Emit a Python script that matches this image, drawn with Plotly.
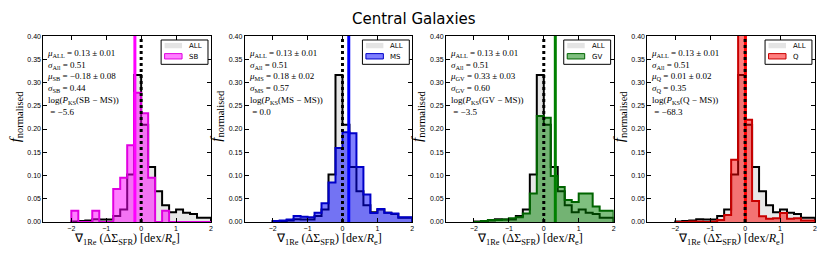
import plotly.graph_objects as go
from plotly.subplots import make_subplots

# ---------------- data ----------------
bin_edges = [-2.0, -1.8, -1.6, -1.4, -1.2, -1.0, -0.8, -0.6, -0.4, -0.2,
             0.0, 0.2, 0.4, 0.6, 0.8, 1.0, 1.2, 1.4, 1.6, 1.8]

all_frac = [0.001, 0.002, 0.003, 0.006, 0.005, 0.005, 0.013, 0.027, 0.102, 0.316,
            0.209, 0.118, 0.066, 0.036, 0.021, 0.027, 0.020, 0.017, 0.009]
sb_frac = [0.024, 0.0, 0.0, 0.024, 0.0, 0.0, 0.071, 0.095, 0.165, 0.278,
           0.234, 0.095, 0.0, 0.024, 0.0, 0.0, 0.0, 0.0, 0.0]
ms_frac = [0.002, 0.003, 0.005, 0.013, 0.011, 0.010, 0.020, 0.040, 0.085, 0.159,
           0.193, 0.191, 0.118, 0.059, 0.019, 0.028, 0.020, 0.018, 0.010]
gv_frac = [0.0, 0.002, 0.004, 0.004, 0.005, 0.008, 0.010, 0.018, 0.061, 0.228,
           0.224, 0.099, 0.075, 0.047, 0.043, 0.061, 0.061, 0.033, 0.024]
q_frac = [0.0, 0.0, 0.001, 0.001, 0.0, 0.001, 0.004, 0.015, 0.134, 0.515,
          0.220, 0.045, 0.012, 0.007, 0.008, 0.019, 0.007, 0.008, 0.003]

groups = ["SB", "MS", "GV", "Q"]
group_frac = [sb_frac, ms_frac, gv_frac, q_frac]
group_mu = [-0.18, 0.18, 0.33, 0.01]
group_mu_err = [0.08, 0.02, 0.03, 0.02]
group_sigma = [0.44, 0.57, 0.60, 0.35]
group_log_pks = [-5.6, 0.0, -3.5, -68.3]
mu_all, mu_all_err, sigma_all = 0.13, 0.01, 0.51
ref_line = 0.0

x_ticks = [-2, -1, 0, 1, 2]
x_tick_labels = ["\u22122", "\u22121", "0", "1", "2"]
y_ticks = [0.0, 0.05, 0.10, 0.15, 0.20, 0.25, 0.30, 0.35, 0.40]
y_tick_labels = ["0.00", "0.05", "0.10", "0.15", "0.20", "0.25", "0.30", "0.35", "0.40"]

title_text = "Central Galaxies"

# ---------------- styles ----------------
fill_cols = ["rgba(255,0,255,0.5)", "rgba(0,0,255,0.5)", "rgba(0,128,0,0.5)", "rgba(255,0,0,0.5)"]
edge_cols = ["#e000e0", "#0000c8", "#006400", "#c80000"]
mean_cols = ["#ff00ff", "#0000ff", "#008000", "#ff0000"]
all_fill = "rgba(211,211,211,0.55)"

W, H = 830, 258
ax_left = [43.5, 245.3, 447.1, 648.9]
ax_w = 168.0
ax_top, ax_bot = 33.0, 224.0
x_range = [-2.8, 2.0]
y_range = [0.0, 0.4]


def px_x(p):
    return p / W


def px_y(p):
    return 1 - p / H


def fmt(v):
    return f"{v:.2f}".replace("-", "\u2212")


def step_xy(vals):
    width = bin_edges[1] - bin_edges[0]
    xs = [bin_edges[0]] + bin_edges[:-1] + [round(bin_edges[-1] + width, 2)]
    ys = [0.0] + list(vals) + [0.0]
    return xs, ys


fig = make_subplots(rows=1, cols=4)

for i, g in enumerate(groups):
    col = i + 1
    xs, ys = step_xy(all_frac)
    fig.add_trace(go.Scatter(x=xs, y=ys, mode="lines", line_shape="hv",
                             line=dict(color="black", width=2), fill="tozeroy",
                             fillcolor=all_fill, showlegend=False, hoverinfo="skip"),
                  row=1, col=col)
    xs, ys = step_xy(group_frac[i])
    fig.add_trace(go.Scatter(x=xs, y=ys, mode="lines", line_shape="hv",
                             line=dict(color=edge_cols[i], width=2), fill="tozeroy",
                             fillcolor=fill_cols[i], showlegend=False, hoverinfo="skip"),
                  row=1, col=col)

    xa = "x" if i == 0 else f"x{i+1}"
    ya = "y" if i == 0 else f"y{i+1}"
    fig.add_shape(type="line", x0=group_mu[i], x1=group_mu[i], y0=0, y1=1,
                  xref=xa, yref=f"{ya} domain", line=dict(color=mean_cols[i], width=3),
                  layer="above")
    fig.add_shape(type="line", x0=ref_line, x1=ref_line, y0=0, y1=1,
                  xref=xa, yref=f"{ya} domain", line=dict(color="black", width=3, dash="3px,3px"),
                  layer="above")

    left = ax_left[i]
    right = left + ax_w
    axis_kw = dict(showline=True, linecolor="black", linewidth=1, mirror="allticks",
                   ticks="inside", ticklen=4, tickcolor="black", tickwidth=1,
                   showgrid=False, zeroline=False,
                   tickfont=dict(family="Liberation Sans", size=7, color="black"))
    fig.update_xaxes(domain=[px_x(left), px_x(right)], range=x_range,
                     tickvals=x_ticks, ticktext=x_tick_labels, **axis_kw, row=1, col=col)
    fig.update_yaxes(domain=[px_y(ax_bot), px_y(ax_top)], range=y_range,
                     tickvals=y_ticks, ticktext=y_tick_labels, **axis_kw, row=1, col=col)

    # statistics text
    lines = [
        f"<i>\u03bc</i><sub>ALL</sub> = {fmt(mu_all)} \u00b1 {fmt(mu_all_err)}",
        f"<i>\u03c3</i><sub>All</sub> = {fmt(sigma_all)}",
        f"<i>\u03bc</i><sub>{g}</sub> = {fmt(group_mu[i])} \u00b1 {fmt(group_mu_err[i])}",
        f"<i>\u03c3</i><sub>{g}</sub> = {fmt(group_sigma[i])}",
        f"log(<i>P</i><sub>KS</sub>({g} \u2212 MS))",
        f" = {str(group_log_pks[i]).replace('-', chr(0x2212))}",
    ]
    fig.add_annotation(x=px_x(left + 2), y=px_y(43.5), xref="paper", yref="paper",
                       text="<br>".join(lines), showarrow=False, xanchor="left", yanchor="top",
                       align="left",
                       font=dict(family="Liberation Serif", size=9, color="black"))

    # legend box
    bx1 = right - 3
    bx0 = bx1 - 47
    by0 = ax_top + 4
    by1 = by0 + 25
    fig.add_shape(type="rect", x0=px_x(bx0), x1=px_x(bx1), y0=px_y(by1), y1=px_y(by0),
                  xref="paper", yref="paper", line=dict(color="black", width=1),
                  fillcolor="white", layer="above")
    fig.add_shape(type="rect", x0=px_x(bx0 + 3.5), x1=px_x(bx0 + 21), y0=px_y(by0 + 8.5),
                  y1=px_y(by0 + 3), xref="paper", yref="paper", line=dict(width=0),
                  fillcolor="#e4e4e4", layer="above")
    fig.add_shape(type="rect", x0=px_x(bx0 + 3.5), x1=px_x(bx0 + 21), y0=px_y(by0 + 19.5),
                  y1=px_y(by0 + 14), xref="paper", yref="paper",
                  line=dict(color=edge_cols[i], width=1), fillcolor=fill_cols[i], layer="above")
    for k, t in enumerate(["ALL", g]):
        fig.add_annotation(x=px_x(bx0 + 26), y=px_y(by0 + 6 + 11 * k), xref="paper", yref="paper",
                           text=t, showarrow=False, xanchor="left", yanchor="middle",
                           font=dict(family="DejaVu Sans", size=7, color="black"))

    # axis titles
    fig.add_annotation(x=px_x((left + right) / 2), y=px_y(242), xref="paper", yref="paper",
                       text="\u2207<sub>1Re</sub> (\u0394\u03a3<sub>SFR</sub>) [dex/<i>R</i><sub>e</sub>]",
                       showarrow=False, xanchor="center", yanchor="middle",
                       font=dict(family="Liberation Serif", size=12, color="black"))
    fig.add_annotation(x=px_x(left - 28), y=px_y(115), xref="paper", yref="paper",
                       text="<i>f</i><sub>normalised</sub>", textangle=-90,
                       showarrow=False, xanchor="center", yanchor="middle",
                       font=dict(family="Liberation Serif", size=15, color="black"))

fig.add_annotation(x=0.5, y=px_y(15), xref="paper", yref="paper", text=title_text,
                   showarrow=False, xanchor="center", yanchor="middle",
                   font=dict(family="DejaVu Sans", size=15, color="black"))

fig.update_layout(width=W, height=H, margin=dict(l=0, r=0, t=0, b=0),
                  paper_bgcolor="white", plot_bgcolor="white", showlegend=False)

fig.write_html("out.html", config={"displayModeBar": False, "staticPlot": True},
               post_script="document.body.style.margin='0px';document.body.style.overflow='hidden';")
